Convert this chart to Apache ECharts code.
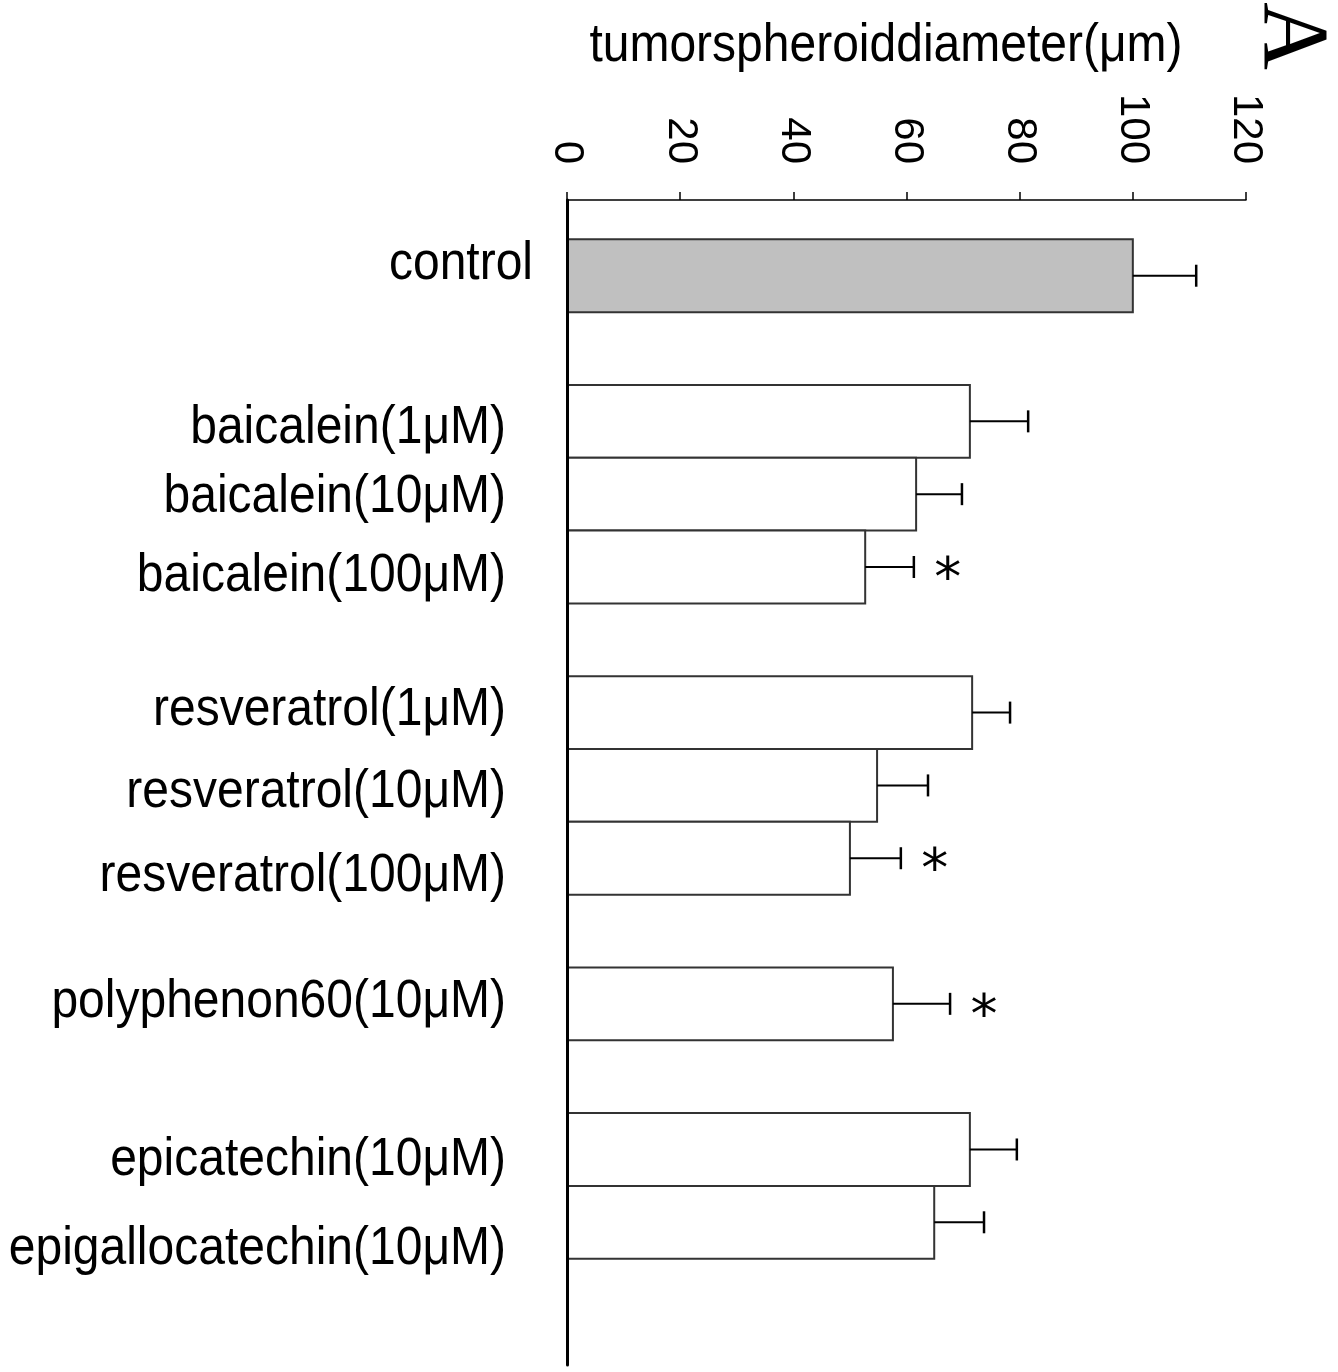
<!DOCTYPE html>
<html>
<head>
<meta charset="utf-8">
<script src="https://cdn.jsdelivr.net/npm/echarts@6/dist/echarts.min.js"></script>
<style>
  html, body { margin: 0; padding: 0; background: #ffffff; }
  #chart { width: 1338px; height: 1372px; }
</style>
</head>
<body>
<div id="chart"></div>
<script>
// ---------------- data ----------------
const groups = [
  ['control'],
  ['baicalein(1μM)', 'baicalein(10μM)', 'baicalein(100μM)'],
  ['resveratrol(1μM)', 'resveratrol(10μM)', 'resveratrol(100μM)'],
  ['polyphenon60(10μM)'],
  ['epicatechin(10μM)', 'epigallocatechin(10μM)']
];
const means = [100, 71.2, 61.7, 52.7, 71.6, 54.8, 50.0, 57.6, 71.2, 64.9];
const errors = [11.2, 10.3, 8.1, 8.6, 6.7, 9.0, 9.0, 10.1, 8.3, 8.8];
const significant = [false, false, false, true, false, false, true, true, false, false];
const xTicks = [0, 20, 40, 60, 80, 100, 120];
const axisTitle = 'tumorspheroiddiameter(μm)';
const panelLetter = 'A';

// ---------------- layout / style ----------------
// slot index of each bar on the category scale (one empty slot between groups)
const categories = [];
const slots = [];
let s = 0;
groups.forEach(g => {
  g.forEach(name => { categories.push(name); slots.push(s); s += 1; });
  s += 1;
});
// pixel nudges of the category labels [dx from axis, dy from bar centre]
const labelNudge = [[34, -11], [61, 7], [61, 3], [61, 9], [61, -2], [61, 7], [61, 18], [61, -1], [61, 11], [61, 27]];
const FONT = 'Liberation Sans';
const STRETCH = 1.1;   // text in the reference is slightly taller than wide

const chart = echarts.init(document.getElementById('chart'), null, { renderer: 'canvas' });

const barData = means.map((m, i) => [m, slots[i], errors[i], significant[i] ? 1 : 0, i]);

function renderBar(params, api) {
  const v = api.value(0), sl = api.value(1), e = api.value(2), sig = api.value(3), i = api.value(4);
  const p0 = api.coord([0, sl]);
  const p1 = api.coord([v, sl]);
  const pe = api.coord([v + e, sl]);
  const h = api.size([0, 1])[1];
  const cy = p0[1];
  const children = [
    {
      type: 'rect',
      shape: { x: p0[0], y: cy - h / 2, width: p1[0] - p0[0], height: h },
      style: { fill: i === 0 ? '#c0c0c0' : '#ffffff', stroke: '#333', lineWidth: 2 }
    },
    {
      type: 'line',
      shape: { x1: p1[0], y1: cy, x2: pe[0], y2: cy },
      style: { stroke: '#000', lineWidth: 2 }
    },
    {
      type: 'line',
      shape: { x1: pe[0], y1: cy - 11, x2: pe[0], y2: cy + 11 },
      style: { stroke: '#000', lineWidth: 2.5 }
    },
    {
      type: 'text',
      x: p0[0] - labelNudge[i][0], y: cy + labelNudge[i][1],
      scaleY: STRETCH,
      style: {
        text: categories[i], x: 0, y: 0,
        align: 'right', verticalAlign: 'middle',
        fontSize: 48, fontFamily: FONT, fill: '#000'
      }
    }
  ];
  if (sig) {
    children.push({
      type: 'text',
      x: pe[0] + 34, y: cy + 14,
      style: {
        text: '*', x: 0, y: 0,
        align: 'center', verticalAlign: 'middle',
        fontSize: 54, fontFamily: 'DejaVu Sans', fill: '#000'
      }
    });
  }
  return { type: 'group', children };
}

const option = {
  backgroundColor: '#ffffff',
  animation: false,
  graphic: [
    {
      type: 'text',
      x: 886, y: 46, scaleY: STRETCH,
      style: {
        text: axisTitle, x: 0, y: 0, align: 'center', verticalAlign: 'middle',
        fontSize: 48, fontFamily: FONT, fill: '#000'
      }
    },
    {
      type: 'text',
      x: 1290, y: 36,
      rotation: -Math.PI / 2,
      style: {
        text: panelLetter, x: 0, y: 0, align: 'center', verticalAlign: 'middle',
        fontSize: 94, fontFamily: 'Liberation Serif', fill: '#000'
      }
    }
  ],
  grid: { left: 567, top: 200, width: 679, height: 1165, containLabel: false },
  xAxis: {
    type: 'value', position: 'top',
    min: xTicks[0], max: xTicks[xTicks.length - 1], interval: xTicks[1] - xTicks[0],
    splitLine: { show: false },
    axisLine: { show: true, onZero: false, lineStyle: { color: '#000', width: 1.5 } },
    axisTick: { show: true, inside: false, length: 8, lineStyle: { color: '#000', width: 1.5 } },
    axisLabel: { rotate: 90, margin: 36, fontSize: 42, fontFamily: FONT, color: '#000' }
  },
  yAxis: {
    type: 'value', inverse: true, min: -1.04, max: 14.96, z: 10,
    splitLine: { show: false },
    axisLine: { show: true, onZero: false, lineStyle: { color: '#000', width: 3 } },
    axisTick: { show: false },
    axisLabel: { show: false }
  },
  series: [{
    type: 'custom',
    clip: false,
    renderItem: renderBar,
    encode: { x: 0, y: 1 },
    data: barData
  }]
};
chart.setOption(option);
</script>
</body>
</html>
